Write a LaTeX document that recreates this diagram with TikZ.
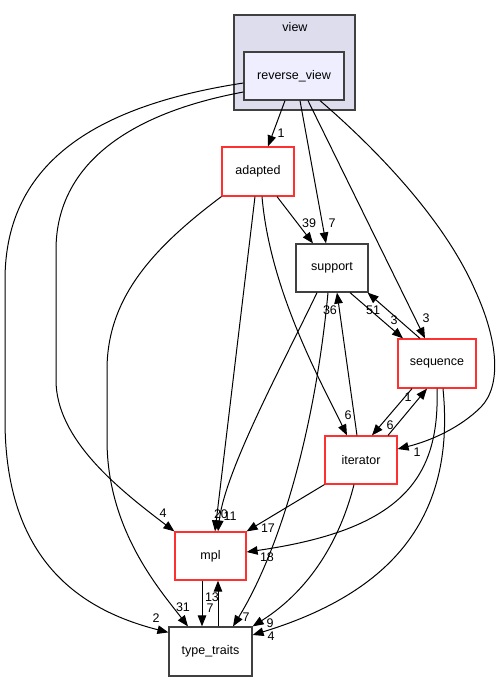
\documentclass[tikz,border=0pt]{standalone}
\usepackage{fontspec}
\setmainfont{Liberation Sans}
\usetikzlibrary{arrows.meta}
\definecolor{clusterfill}{HTML}{DDDDEE}
\definecolor{rvfill}{HTML}{EEEEFF}
\definecolor{bordergray}{HTML}{404040}
\definecolor{redline}{HTML}{FF3030}
\begin{document}
\begin{tikzpicture}[x=1pt,y=-1pt,
  box/.style={draw=bordergray, line width=1.2pt, fill=white, inner sep=0pt, minimum width=72pt, minimum height=48pt, font=\fontsize{12.5}{14}\selectfont},
  redbox/.style={box, draw=redline},
  e/.style={-{Triangle[length=11pt,width=8.5pt]}, line width=1pt, black},
  lbl/.style={font=\fontsize{12.5}{14}\selectfont, inner sep=0pt}]
\useasboundingbox (0,0) rectangle (500,681);
% cluster
\node[draw=bordergray, fill=clusterfill, line width=1.2pt, minimum width=121pt, minimum height=95pt, inner sep=0pt] (view) at (294.5,62.5) {};
\node[font=\fontsize{12.5}{14}\selectfont, inner sep=0pt] (viewlbl) at (295,27) {view};
% nodes
\node[box, fill=rvfill, minimum width=100pt] (rv) at (294,76) {reverse\_view};
\node[redbox, minimum height=49pt] (ad) at (258,171.5) {adapted};
\node[box] (su) at (332,268) {support};
\node[redbox, minimum width=78pt, minimum height=49pt] (seq) at (437,363.5) {sequence};
\node[redbox] (it) at (361,460) {iterator};
\node[redbox, minimum width=71pt] (mpl) at (210.5,556) {mpl};
\node[box, minimum width=83pt, minimum height=49pt] (tt) at (210.5,651.5) {type\_traits};
% edges
\draw[e] ([xshift=-9pt]rv.south) -- ([xshift=10pt]ad.north);
\node[lbl] (l1) at (281,133) {1};
\draw[e] ([xshift=6pt]rv.south) -- ([xshift=-6pt]su.north);
\node[lbl] (l2) at (332,223) {7};
\draw[e] ([xshift=19pt]ad.south) -- ([xshift=-19pt]su.north);
\node[lbl] (l3) at (309,223) {39};
\draw[e] ([xshift=14pt]rv.south) -- ([xshift=-12pt]seq.north);
\node[lbl] (l4) at (426,318) {3};
\draw[e] ([xshift=26pt]rv.south) .. controls (360,135) and (440,210) .. (475,290) .. controls (498,340) and (502,385) .. (481,407) .. controls (460,428) and (430,441) .. ([yshift=11pt]it.east);
\node[lbl] (l5) at (417,452) {1};
\draw[e] ([yshift=-16pt]rv.west) .. controls (120,115) and (56,170) .. (56,250) -- (56,380) .. controls (56,440) and (120,490) .. (mpl.north west);
\node[lbl] (l6) at (163,513) {4};
\draw[e] ([yshift=-7pt]rv.west) .. controls (100,105) and (5,160) .. (5,280) -- (5,420) .. controls (5,560) and (80,610) .. ([yshift=-6pt]tt.north west);
\node[lbl] (l7) at (156,618) {2};
\draw[e] (ad.south west) .. controls (150,250) and (107,300) .. (107,370) -- (107,440) .. controls (107,530) and (160,590) .. ([xshift=-22.5pt]tt.north);
\node[lbl] (l8) at (183,607) {31};
\draw[e] ([xshift=-3pt]ad.south) -- ([xshift=4.5pt]mpl.north);
\node[lbl] (l9) at (221,514) {20};
\draw[e] ([xshift=-15pt]su.south) .. controls (285,360) and (225,470) .. ([xshift=7.5pt]mpl.north);
\node[lbl] (l10) at (230,516) {11};
\draw[e] ([xshift=-4pt]su.south) .. controls (315,430) and (280,550) .. ([xshift=22.5pt]tt.north);
\node[lbl] (l11) at (246,617) {7};
\draw[e] ([xshift=4pt]ad.south) .. controls (270,290) and (320,380) .. ([xshift=-14pt]it.north);
\node[lbl] (l12) at (348,415) {6};
\draw[e] ([xshift=-4pt]it.north) -- ([xshift=5pt]su.south);
\node[lbl] (l13) at (330,310) {36};
\draw[e] ([xshift=18pt]su.south) -- ([xshift=-34pt]seq.north);
\node[lbl] (l14) at (394,320) {3};
\draw[e] ([xshift=-17pt]seq.north) -- ([xshift=-1pt]su.south east);
\node[lbl] (l15) at (373,310) {51};
\draw[e] ([xshift=-25pt]seq.south) -- ([xshift=11pt]it.north);
\node[lbl] (l16) at (390,425) {6};
\draw[e] ([xshift=27pt]it.north) -- ([xshift=-10pt]seq.south);
\node[lbl] (l17) at (408,397) {1};
\draw[e] (seq.south) .. controls (440,480) and (400,530) .. ([yshift=4pt]mpl.east);
\node[lbl] (l18) at (267,557) {18};
\draw[e] ([xshift=6pt]seq.south) .. controls (455,510) and (400,590) .. ([yshift=16.5pt]tt.east);
\node[lbl] (l19) at (271,636) {4};
\draw[e] (it.south west) -- (mpl.north east);
\node[lbl] (l20) at (268,528) {17};
\draw[e] ([xshift=-7pt]it.south) .. controls (340,540) and (310,590) .. (tt.north east);
\node[lbl] (l21) at (270,623) {9};
\draw[e] ([xshift=-8.5pt]mpl.south) -- ([xshift=-8.5pt]tt.north);
\node[lbl] (l22) at (210,608) {7};
\draw[e] ([xshift=7.5pt]tt.north) -- ([xshift=7.5pt]mpl.south);
\node[lbl] (l23) at (212,597) {13};
\end{tikzpicture}
\end{document}
